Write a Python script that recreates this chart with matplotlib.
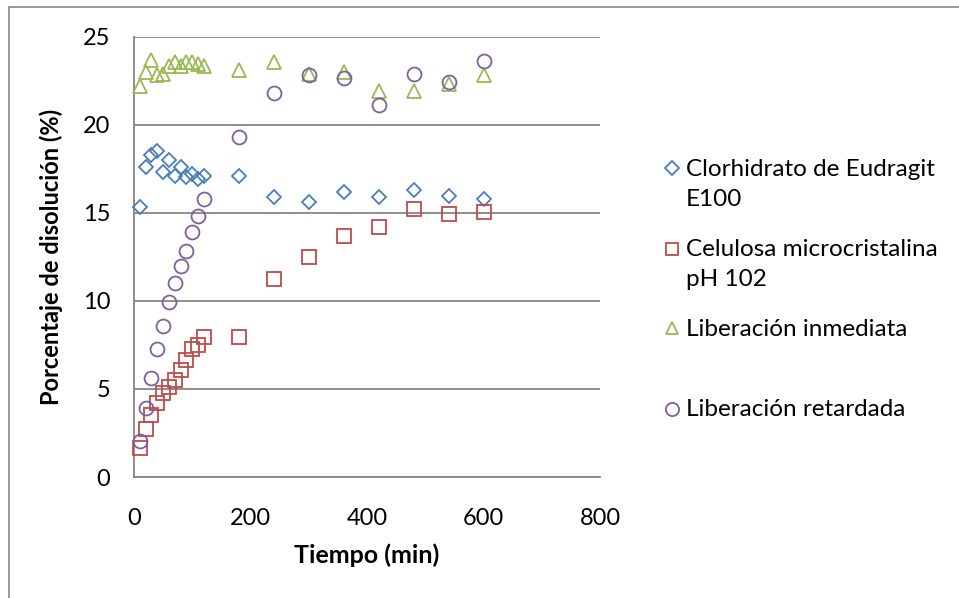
import matplotlib
matplotlib.use('Agg')
import matplotlib.pyplot as plt
from matplotlib.lines import Line2D
from matplotlib.patches import Rectangle

plt.rcParams['font.family'] = ['Lato', 'DejaVu Sans']

# tiempo de muestreo (min)
tiempo = [10, 20, 30, 40, 50, 60, 70, 80, 90, 100, 110, 120,
          180, 240, 300, 360, 420, 480, 540, 600]

eudragit = [15.3, 17.6, 18.3, 18.5, 17.3, 18.0, 17.1, 17.6, 17.0, 17.2, 16.9, 17.1,
            17.1, 15.9, 15.6, 16.2, 15.9, 16.3, 15.95, 15.8]
celulosa = [1.65, 2.7, 3.5, 4.2, 4.75, 5.1, 5.5, 6.05, 6.65, 7.25, 7.5, 7.95,
            7.95, 11.25, 12.5, 13.65, 14.2, 15.2, 14.95, 15.05]
inmediata = [22.2, 23.0, 23.65, 22.8, 22.9, 23.35, 23.55, 23.35, 23.55, 23.55, 23.45, 23.3,
             23.1, 23.55, 22.85, 23.0, 21.9, 21.9, 22.3, 22.8]
retardada = [2.05, 3.9, 5.6, 7.25, 8.55, 9.95, 11.0, 11.95, 12.8, 13.9, 14.8, 15.8,
             19.3, 21.8, 22.8, 22.65, 21.1, 22.9, 22.4, 23.6]

series = [
    ('Clorhidrato de Eudragit\nE100', eudragit, 'D', '#4A7EBB', 7.2),
    ('Celulosa microcristalina\npH 102', celulosa, 's', '#BE4B48', 9.5),
    ('Liberación inmediata', inmediata, '^', '#98B954', 9.5),
    ('Liberación retardada', retardada, 'o', '#7D60A0', 10),
]

FS = 17
W, H = 959, 598
fig = plt.figure(figsize=(W / 100, H / 100), dpi=100)
ax = fig.add_axes([134 / W, 1 - 477 / H, (600 - 134) / W, (477 - 36.5) / H])

for label, vals, mk, col, ms in series:
    ax.plot(tiempo, vals, linestyle='none', marker=mk, markersize=ms,
            markerfacecolor='none', markeredgecolor=col, markeredgewidth=1.3,
            clip_on=False, zorder=3)

ax.set_xlim(0, 800)
ax.set_ylim(0, 25)
ax.set_xticks([0, 200, 400, 600, 800])
ax.set_yticks([0, 5, 10, 15, 20, 25])
ax.yaxis.grid(True, color='#868686', linewidth=1.3)
ax.set_axisbelow(True)
for s in ['top', 'right']:
    ax.spines[s].set_visible(False)
for s in ['left', 'bottom']:
    ax.spines[s].set_color('#868686')
    ax.spines[s].set_linewidth(1.3)
ax.tick_params(axis='both', length=0, labelsize=FS)
ax.tick_params(axis='y', pad=17)
ax.tick_params(axis='x', pad=22)
ax.set_xlabel('Tiempo (min)', fontsize=18, fontweight='bold', labelpad=11)
ax.set_ylabel('Porcentaje de disolución (%)', fontsize=FS, fontweight='bold', labelpad=14)

# leyenda a mano (entradas de alto fijo, como en Excel)
leg_base = [176, 256.5, 336, 416.5]
for (label, vals, mk, col, ms), yb in zip(series, leg_base):
    fig.add_artist(Line2D([672 / W], [1 - (yb - 8) / H], linestyle='none', marker=mk,
                          markersize=ms * 0.95, markerfacecolor='none',
                          markeredgecolor=col, markeredgewidth=1.3))
    for i, line in enumerate(label.split('\n')):
        fig.text(686 / W, 1 - (yb + 30 * i) / H, line, fontsize=17.5,
                 va='baseline', ha='left')

# borde del gráfico
fig.add_artist(Rectangle((9 / W, -0.1), 1.2, 1.1 - 7 / H, transform=fig.transFigure,
                         fill=False, edgecolor='#868686', linewidth=1.2))

fig.savefig('out.png', dpi=100)
